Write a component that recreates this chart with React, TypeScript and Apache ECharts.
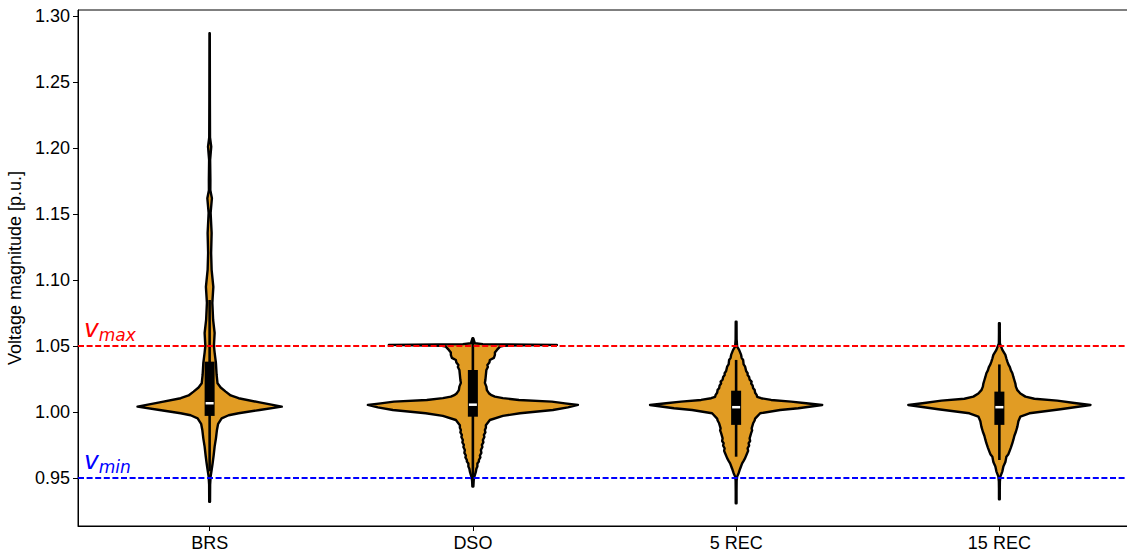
import React, { useEffect, useRef } from 'react';
import * as echarts from 'echarts';

// ---------- data ----------
const categories = ['BRS', 'DSO', '5 REC', '15 REC'];
const yTicks = [0.95, 1.0, 1.05, 1.1, 1.15, 1.2, 1.25, 1.3];
const yMin = 0.9136;
const yMax = 1.3045;
const vMax = 1.05;
const vMin = 0.95;

// violin profiles: voltage level (p.u.) and half width (fraction of category band)
const brsLevels = [0.932, 0.945, 0.951, 0.956, 0.9611, 0.967, 0.9737, 0.98, 0.9864, 0.991, 0.9952, 0.9975, 0.999, 1.0015, 1.004, 1.0072, 1.0104, 1.0125, 1.0154, 1.0185, 1.0217, 1.028, 1.0369, 1.045, 1.05, 1.0598, 1.0697, 1.0826, 1.0947, 1.1076, 1.1205, 1.1356, 1.1508, 1.1619, 1.168, 1.1758, 1.191, 1.201, 1.208, 1.2364, 1.2869];
const brsHalfWidths = [0.0015, 0.0019, 0.0038, 0.0076, 0.0114, 0.0152, 0.019, 0.024, 0.0278, 0.0323, 0.0456, 0.0722, 0.11, 0.19, 0.274, 0.19, 0.11, 0.08, 0.061, 0.042, 0.03, 0.0266, 0.024, 0.019, 0.0163, 0.019, 0.0133, 0.0103, 0.0141, 0.0076, 0.0057, 0.0076, 0.0038, 0.0087, 0.0027, 0.0029, 0.0019, 0.0061, 0.0015, 0.001, 0.0006];

const dsoLevels = [0.9434, 0.948, 0.951, 0.9548, 0.957, 0.9586, 0.961, 0.9625, 0.9636, 0.9655, 0.967, 0.969, 0.9712, 0.9735, 0.975, 0.977, 0.9788, 0.981, 0.9826, 0.9845, 0.9864, 0.988, 0.99, 0.9939, 0.997, 0.999, 1.0015, 1.0035, 1.0053, 1.0065, 1.0078, 1.0091, 1.0105, 1.0116, 1.013, 1.0142, 1.0165, 1.0192, 1.022, 1.0242, 1.028, 1.0318, 1.034, 1.0356, 1.0375, 1.0394, 1.041, 1.0432, 1.045, 1.047, 1.0495, 1.0502, 1.0508, 1.0514, 1.052, 1.0558];
const dsoHalfWidths = [0.0015, 0.003, 0.0057, 0.0114, 0.0133, 0.0171, 0.0171, 0.0228, 0.0228, 0.0285, 0.0266, 0.0323, 0.0304, 0.0361, 0.0342, 0.0399, 0.038, 0.0437, 0.0418, 0.0475, 0.0456, 0.0494, 0.0494, 0.0646, 0.114, 0.179, 0.304, 0.361, 0.399, 0.35, 0.3, 0.175, 0.114, 0.0837, 0.0684, 0.0608, 0.0532, 0.0513, 0.0456, 0.0475, 0.0494, 0.0513, 0.057, 0.0551, 0.0627, 0.0646, 0.0798, 0.0837, 0.0837, 0.0913, 0.103, 0.122, 0.319, 0.038, 0.0076, 0.0015];

const rec5Levels = [0.9308, 0.94, 0.948, 0.951, 0.9536, 0.957, 0.9611, 0.963, 0.965, 0.9687, 0.9705, 0.9725, 0.9745, 0.9763, 0.978, 0.98, 0.9839, 0.986, 0.9876, 0.9914, 0.9935, 0.995, 0.999, 1.0015, 1.0028, 1.0053, 1.0066, 1.0078, 1.0091, 1.0104, 1.0115, 1.0129, 1.0145, 1.0167, 1.018, 1.02, 1.0215, 1.023, 1.0245, 1.0265, 1.028, 1.0293, 1.031, 1.0343, 1.036, 1.0394, 1.041, 1.0432, 1.047, 1.0495, 1.055, 1.0684];
const rec5HalfWidths = [0.0015, 0.0015, 0.0019, 0.0038, 0.0095, 0.0152, 0.0228, 0.0285, 0.0342, 0.0418, 0.0456, 0.0437, 0.0494, 0.0475, 0.0532, 0.0513, 0.057, 0.0608, 0.0589, 0.0646, 0.0703, 0.0722, 0.0913, 0.167, 0.236, 0.327, 0.266, 0.209, 0.133, 0.095, 0.0798, 0.0779, 0.0722, 0.0703, 0.0646, 0.0627, 0.057, 0.0589, 0.0513, 0.0494, 0.0437, 0.0437, 0.038, 0.0342, 0.0285, 0.0266, 0.0209, 0.019, 0.0114, 0.0038, 0.0019, 0.0015];

const rec15Levels = [0.9339, 0.942, 0.9472, 0.951, 0.955, 0.9586, 0.962, 0.9661, 0.968, 0.97, 0.973, 0.9763, 0.979, 0.982, 0.985, 0.9889, 0.993, 0.9965, 0.999, 1.002, 1.0053, 1.0068, 1.0086, 1.01, 1.0116, 1.014, 1.0165, 1.0192, 1.0215, 1.024, 1.0265, 1.0293, 1.0315, 1.034, 1.036, 1.0381, 1.0405, 1.0432, 1.047, 1.052, 1.06, 1.0672];
const rec15HalfWidths = [0.0015, 0.0015, 0.0019, 0.0038, 0.0114, 0.0152, 0.0228, 0.0266, 0.0342, 0.038, 0.0437, 0.0494, 0.0532, 0.057, 0.0627, 0.0684, 0.0722, 0.0798, 0.114, 0.232, 0.346, 0.285, 0.22, 0.133, 0.0989, 0.0798, 0.0684, 0.0627, 0.0608, 0.057, 0.0532, 0.0494, 0.0437, 0.0399, 0.0342, 0.0304, 0.0266, 0.0228, 0.0114, 0.0019, 0.0015, 0.0015];

// inner box statistics
const q1 = [0.997, 0.9964, 0.9902, 0.9902];
const median = [1.0066, 1.0055, 1.0036, 1.0036];
const q3 = [1.0381, 1.0318, 1.0161, 1.0154];
const whiskerLow = [0.955, 0.9434, 0.9661, 0.9636];
const whiskerHigh = [1.0848, 1.0558, 1.0394, 1.036];

const profileLevels = [brsLevels, dsoLevels, rec5Levels, rec15Levels];
const profileHalfWidths = [brsHalfWidths, dsoHalfWidths, rec5HalfWidths, rec15HalfWidths];

// ---------- styles ----------
const VIOLIN_FILL = '#e19c24';
const OUTLINE_W = 2.4;
const BOX_WIDTH = 10;
const WHISKER_WIDTH = 2.6;
const MEDIAN_W = 8;
const MEDIAN_H = 2.5;
const FONT = '"Liberation Sans", Arial, Helvetica, sans-serif';
const MATH_FONT = '"DejaVu Sans", sans-serif';

export default function App() {
  const ref = useRef<HTMLDivElement>(null);

  useEffect(() => {
    if (!ref.current) return;
    const chart = echarts.init(ref.current, undefined, { renderer: 'svg' });

    const renderItem = (params: any, api: any) => {
      const i = params.dataIndex;
      const levels = profileLevels[i];
      const hws = profileHalfWidths[i];
      const band = api.size([1, 0])[0];
      const cx = api.coord([i, levels[0]])[0];
      const left: number[][] = [];
      const right: number[][] = [];
      for (let k = 0; k < levels.length; k++) {
        const y = api.coord([i, levels[k]])[1];
        const dx = hws[k] * band;
        left.push([cx - dx, y]);
        right.push([cx + dx, y]);
      }
      const points = left.concat(right.reverse());
      const yLo = api.coord([i, whiskerLow[i]])[1];
      const yHi = api.coord([i, whiskerHigh[i]])[1];
      const yQ1 = api.coord([i, q1[i]])[1];
      const yQ3 = api.coord([i, q3[i]])[1];
      const yMed = api.coord([i, median[i]])[1];
      return {
        type: 'group',
        children: [
          {
            type: 'polygon',
            shape: { points },
            style: { fill: VIOLIN_FILL, stroke: '#000', lineWidth: OUTLINE_W, lineJoin: 'round' },
          },
          {
            type: 'line',
            shape: { x1: cx, y1: yLo, x2: cx, y2: yHi },
            style: { stroke: '#000', lineWidth: WHISKER_WIDTH },
          },
          {
            type: 'rect',
            shape: { x: cx - BOX_WIDTH / 2, y: yQ3, width: BOX_WIDTH, height: yQ1 - yQ3 },
            style: { fill: '#000' },
          },
          {
            type: 'rect',
            shape: { x: cx - MEDIAN_W / 2, y: yMed - MEDIAN_H / 2, width: MEDIAN_W, height: MEDIAN_H },
            style: { fill: '#fff' },
          },
        ],
      };
    };

    const richLabel = (color: string) => ({
      v: { fontFamily: MATH_FONT, fontStyle: 'italic', fontSize: 25, color, lineHeight: 28, verticalAlign: 'top' },
      s: { fontFamily: MATH_FONT, fontStyle: 'italic', fontSize: 17, color, lineHeight: 17, verticalAlign: 'bottom' },
    });

    chart.setOption({
      animation: false,
      grid: {
        left: 78,
        top: 10,
        width: 1053,
        bottom: 29,
        show: true,
        borderColor: '#000',
        borderWidth: 1,
        containLabel: false,
        outerBoundsMode: 'none',
      },
      xAxis: {
        type: 'category',
        data: categories,
        boundaryGap: true,
        axisLine: { show: true, lineStyle: { color: '#000', width: 1 } },
        axisTick: { show: true, alignWithLabel: true, length: 5, lineStyle: { color: '#000' } },
        axisLabel: { color: '#000', fontSize: 18, fontFamily: FONT, margin: 8 },
        splitLine: { show: false },
      },
      yAxis: {
        type: 'value',
        min: yMin,
        max: yMax,
        name: 'Voltage magnitude [p.u.]',
        nameLocation: 'middle',
        nameRotate: 90,
        nameGap: 50,
        nameTextStyle: { color: '#000', fontSize: 18, fontFamily: FONT },
        axisLine: { show: true, lineStyle: { color: '#000', width: 1 } },
        axisTick: { show: true, length: 5, lineStyle: { color: '#000' }, customValues: yTicks },
        axisLabel: {
          color: '#000',
          fontSize: 18,
          fontFamily: FONT,
          margin: 8,
          customValues: yTicks,
          formatter: (v: number) => v.toFixed(2),
        },
        splitLine: { show: false },
      },
      series: [
        {
          type: 'custom',
          renderItem,
          data: categories.map((_, i) => [i, median[i]]),
          clip: false,
          z: 2,
        },
        {
          type: 'line',
          data: [],
          z: 5,
          silent: true,
          markLine: {
            silent: true,
            symbol: ['none', 'none'],
            animation: false,
            data: [
              {
                yAxis: vMax,
                lineStyle: { color: '#ff0000', type: [6, 2.6], width: 2 },
                label: {
                  show: true,
                  position: 'insideStartTop',
                  distance: [6, 2],
                  formatter: '{v|v}{s|max}',
                  rich: richLabel('#ff0000'),
                },
              },
              {
                yAxis: vMin,
                lineStyle: { color: '#0000ff', type: [6, 2.6], width: 2 },
                label: {
                  show: true,
                  position: 'insideStartTop',
                  distance: [6, 2],
                  formatter: '{v|v}{s|min}',
                  rich: richLabel('#0000ff'),
                },
              },
            ],
          },
        },
      ],
    });

    return () => chart.dispose();
  }, []);

  return (
    <div
      ref={ref}
      style={{ position: 'fixed', left: 0, top: 0, width: 1127, height: 555, background: '#fff' }}
    />
  );
}
